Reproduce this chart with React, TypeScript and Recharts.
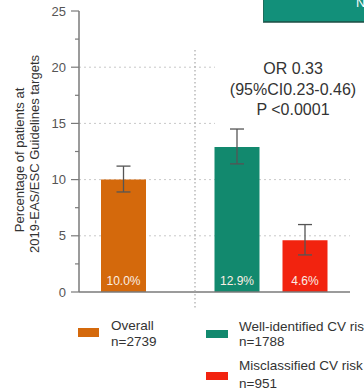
import React from 'react';
import { BarChart, Bar, XAxis, YAxis, CartesianGrid, ErrorBar, Cell, LabelList } from 'recharts';

// Two groups on the x axis: the overall cohort, then the split by CV risk classification
const groups = ['Overall', 'By CV risk classification'];
// First bar in each group: overall cohort, well-identified CV risk
const primaryValues = [10.0, 12.9];
const primaryErrors = [[1.1, 1.2], [1.5, 1.6]];
// Second bar in the split group: misclassified CV risk
const secondaryValues = [null, 4.6];
const secondaryErrors = [[0, 0], [1.3, 1.4]];

const primaryColors = ['#D4690C', '#12896E'];
const secondaryColor = '#F2230F';

const yTicks = [0, 2.5, 5, 7.5, 10, 12.5, 15, 17.5, 20, 22.5, 25];
const gridValues = [5, 10, 15, 20];

const yTitle = ['Percentage of patients at', '2019-EAS/ESC Guidelines targets'];
const annotation = ['OR 0.33', '(95%CI0.23-0.46)', 'P <0.0001'];

const legendLabels = ['Overall', 'Well-identified CV risk', 'Misclassified CV risk'];
const legendCounts = ['n=2739', 'n=1788', 'n=951'];
const legendColors = ['#D4690C', '#12896E', '#F2230F'];

const data = groups.map((g, i) => ({
  group: g,
  primary: primaryValues[i],
  primaryErr: primaryErrors[i],
  secondary: secondaryValues[i],
  secondaryErr: secondaryErrors[i],
}));

const FONT = '"Liberation Sans", Arial, sans-serif';
const AXIS = '#7a7a7a';

const YTick = (props: any) => {
  const { y, payload } = props;
  const v = payload.value as number;
  const major = v % 5 === 0;
  return (
    <g>
      <line x1={major ? 71 : 75} x2={79} y1={y} y2={y} stroke={AXIS} strokeWidth={1.2} />
      {major && (
        <text x={66} y={y} dy={4.5} textAnchor="end" fontSize={13} fill="#555" fontFamily={FONT}>
          {v}
        </text>
      )}
    </g>
  );
};

const gridLine = (p: any) => {
  // the upper lines stop short of the statistics annotation
  const x2 = p.y1 < 140 ? 215 : p.x2;
  return (
    <line
      key={`grid-${p.y1}`}
      x1={p.x1}
      y1={p.y1}
      x2={x2}
      y2={p.y2}
      stroke="#c9c9c9"
      strokeDasharray="2 3"
      strokeWidth={1}
    />
  );
};

const ValueInside = (props: any) => {
  const { x, y, width, height, value } = props;
  if (value === null || value === undefined) return null;
  return (
    <text
      x={x + width / 2}
      y={y + height - 7}
      textAnchor="middle"
      fontSize={12}
      fill="#fbeee4"
      fontFamily={FONT}
    >
      {`${Number(value).toFixed(1)}%`}
    </text>
  );
};

export default function App() {
  return (
    <div style={{ position: 'absolute', left: 0, top: 0, width: 364, height: 389, background: '#fff', fontFamily: FONT }}>
      <BarChart
        width={364}
        height={389}
        data={data}
        margin={{ top: 11, right: 14, bottom: 96, left: 0 }}
        barCategoryGap={0}
        barGap={23}
        barSize={45}
      >
        <CartesianGrid vertical={false} horizontalValues={gridValues} horizontal={gridLine} />
        <XAxis
          dataKey="group"
          tick={false}
          tickLine={false}
          axisLine={{ stroke: AXIS, strokeWidth: 1.5 }}
          padding={{ left: 22, right: 22 }}
          height={1}
        />
        <YAxis
          width={79}
          domain={[0, 25]}
          ticks={yTicks}
          interval={0}
          tick={<YTick />}
          tickLine={false}
          axisLine={{ stroke: AXIS, strokeWidth: 1.5 }}
        />
        <Bar dataKey="primary" isAnimationActive={false}>
          {data.map((d, i) => (
            <Cell key={d.group} fill={primaryColors[i]} />
          ))}
          <ErrorBar dataKey="primaryErr" width={7} stroke="#555" strokeWidth={1.3} />
          <LabelList dataKey="primary" content={<ValueInside />} />
        </Bar>
        <Bar dataKey="secondary" fill={secondaryColor} isAnimationActive={false}>
          <ErrorBar dataKey="secondaryErr" width={7} stroke="#555" strokeWidth={1.3} />
          <LabelList dataKey="secondary" content={<ValueInside />} />
        </Bar>
      </BarChart>

      <svg
        width={364}
        height={389}
        style={{ position: 'absolute', left: 0, top: 0, pointerEvents: 'none', overflow: 'hidden' }}
        fontFamily={FONT}
      >
        {/* header banner running off the top edge */}
        <rect x={263} y={-2} width={110} height={24} fill="#12907A" />
        <line x1={263} y1={22} x2={364} y2={22} stroke="#1d4d43" strokeWidth={1.5} />
        <line x1={263.5} y1={0} x2={263.5} y2={22} stroke="#1d6d5d" strokeWidth={1} />
        <text x={356} y={7} fontSize={13} fill="#fff">N</text>

        {/* divider between overall and split groups */}
        <line x1={195} y1={50} x2={195} y2={308} stroke="#a8a8a8" strokeDasharray="1.5 2.5" strokeWidth={1.2} />

        {/* y axis title */}
        <text transform="translate(24,160) rotate(-90)" textAnchor="middle" fontSize={13} fill="#333">
          {yTitle[0]}
        </text>
        <text transform="translate(39,154) rotate(-90)" textAnchor="middle" fontSize={13} fill="#333">
          {yTitle[1]}
        </text>

        {/* statistics annotation */}
        {annotation.map((t, i) => (
          <text key={t} x={293} y={74 + i * 20.5} textAnchor="middle" fontSize={16} fill="#333">
            {t}
          </text>
        ))}

        {/* legend */}
        <rect x={78} y={328} width={21} height={9} fill={legendColors[0]} />
        <text x={111} y={330} fontSize={13.5} fill="#333">{legendLabels[0]}</text>
        <text x={111} y={346} fontSize={13.5} fill="#333">{legendCounts[0]}</text>

        <rect x={206} y={330} width={22} height={8} fill={legendColors[1]} />
        <text x={239} y={331} fontSize={13.5} fill="#333">{legendLabels[1]}</text>
        <text x={239} y={346} fontSize={13.5} fill="#333">{legendCounts[1]}</text>

        <rect x={206} y={372} width={22} height={8} fill={legendColors[2]} />
        <text x={239} y={370} fontSize={13.5} fill="#333">{legendLabels[2]}</text>
        <text x={239} y={388} fontSize={13.5} fill="#333">{legendCounts[2]}</text>
      </svg>
    </div>
  );
}
